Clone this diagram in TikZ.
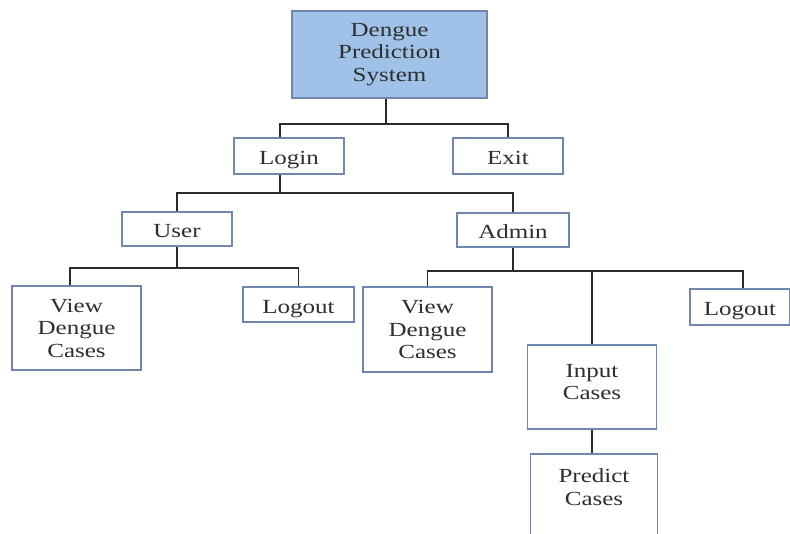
\documentclass[tikz,border=0pt]{standalone}
\usepackage{fontspec}
\setmainfont{Liberation Serif}[FakeStretch=1.25]
\definecolor{boxline}{HTML}{7086AC}
\definecolor{headfill}{HTML}{A0C2E9}
\definecolor{txt}{HTML}{2E2E2E}
\definecolor{linkcol}{HTML}{2A2A2A}
\begin{document}
\begin{tikzpicture}[x=1pt,y=-1pt,
  box/.style 2 args={draw=boxline, line width=1.6pt, fill=white, align=center,
    text=txt, font=\fontsize{20}{22.5}\selectfont, inner sep=0pt,
    minimum width=#1, minimum height=#2},
  oneline/.style={text height=20pt, text depth=3pt},
  link/.style={draw=linkcol, line width=1.8pt}]
\useasboundingbox (0,0) rectangle (790,533);
\clip (0,0) rectangle (790,533);

% boxes
\node[box={195pt}{87pt}, fill=headfill] (top) at (389.5,54.5) {Dengue\\Prediction\\System};
\node[box={110pt}{36pt}, oneline] (login) at (289,156) {Login};
\node[box={110pt}{36pt}, oneline] (exit) at (508,156) {Exit};
\node[box={110pt}{34pt}, oneline] (user) at (177,229) {User};
\node[box={112pt}{34pt}, oneline] (admin) at (513,230) {Admin};
\node[box={129pt}{84pt}] (uview) at (76.5,328) {View\\Dengue\\Cases};
\node[box={111pt}{35pt}, oneline] (ulogout) at (298.5,304.5) {Logout};
\node[box={129pt}{85pt}] (aview) at (427.5,329.5) {View\\Dengue\\Cases};
\node[box={100pt}{36pt}, oneline] (alogout) at (740,307) {Logout};
\node[box={129pt}{84pt}, text depth=10pt] (input) at (592,387) {Input\\Cases};
\node[box={127pt}{110pt}, text depth=44pt] (predict) at (594,509) {Predict\\Cases};

% connectors
\coordinate (b1) at (386,124);
\draw[link] (top.south -| b1) -- (b1);
\draw[link] ([xshift=-9pt]login.north) |- (b1) -| (exit.north);

\draw[link] ([xshift=-9pt]login.south) -- ++(0,18) coordinate (b2);
\draw[link] (user.north) |- (b2) -| (admin.north);

\draw[link] (user.south) -- ++(0,21) coordinate (b3);
\draw[link] ([xshift=-6.5pt]uview.north) |- (b3) -| (ulogout.north);

\draw[link] (admin.south) -- ++(0,23) coordinate (b4);
\draw[link] (aview.north) |- (b4) -| ([xshift=3pt]alogout.north);
\draw[link] (b4 -| input.north) -- (input.north);
\draw[link] (input.south) -- (predict.north -| input.south);
\end{tikzpicture}
\end{document}
